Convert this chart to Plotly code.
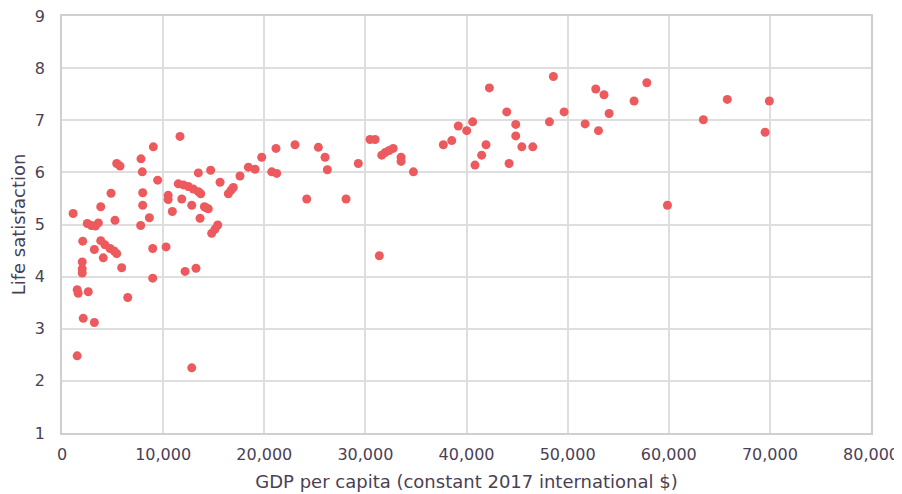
import plotly.graph_objects as go

# GDP per capita (constant 2017 international $)
gdp_per_capita = [
    1100, 1500, 1600, 2600, 1500, 2050, 2000, 2000, 2000, 2100, 3200,
    3200, 3830, 4250, 4750, 5170, 5410, 4080, 5900, 6500, 8970, 10290,
    8970, 2500, 2900, 3300, 3600, 3830, 4850, 5240, 5410, 5740, 7810,
    7940, 9030, 7980, 7980, 8640, 7780, 9460, 10500, 10500, 10910, 11670,
    11500, 12000, 12490, 12990, 13480, 13720, 11840, 12830, 13480, 14700,
    14080, 14470, 14250, 13650, 15630, 14800, 15130, 15400, 16450, 16720,
    16940, 17600, 18430, 19090, 19750, 20740, 21230, 21160, 23040, 24200,
    12170, 13250, 12830, 25350, 26010, 26240, 29300, 28090, 30460, 30960,
    31620, 31950, 32350, 32750, 33530, 33530, 34750, 31380, 37710, 38540,
    39190, 40020, 40610, 40840, 41500, 41930, 42260, 43980, 44210, 44870,
    44870, 45470, 46550, 48200, 48590, 49650, 51730, 52780, 53600, 53050,
    54100, 56570, 57830, 59870, 63420, 65790, 69530, 69950,
]

life_satisfaction = [
    5.21, 3.75, 3.68, 3.71, 2.48, 4.68, 4.28, 4.15, 4.07, 3.20, 3.12,
    4.52, 4.69, 4.61, 4.54, 4.49, 4.44, 4.36, 4.17, 3.60, 4.54, 4.57,
    3.97, 5.02, 4.98, 4.97, 5.03, 5.34, 5.60, 5.08, 6.17, 6.12, 6.26,
    6.01, 6.49, 5.61, 5.37, 5.13, 4.98, 5.85, 5.56, 5.48, 5.25, 6.69,
    5.78, 5.76, 5.73, 5.68, 5.63, 5.59, 5.49, 5.37, 5.99, 6.04,
    5.34, 5.30, 5.32, 5.12, 5.81, 4.83, 4.91, 4.99, 5.59, 5.66,
    5.71, 5.93, 6.10, 6.06, 6.29, 6.01, 5.98, 6.46, 6.53, 5.49,
    4.10, 4.16, 2.25, 6.48, 6.29, 6.05, 6.17, 5.49, 6.63, 6.63,
    6.33, 6.38, 6.42, 6.46, 6.29, 6.21, 6.01, 4.40, 6.53, 6.61,
    6.89, 6.80, 6.97, 6.14, 6.33, 6.53, 7.62, 7.16, 6.17, 6.92,
    6.70, 6.49, 6.49, 6.97, 7.84, 7.16, 6.93, 7.60, 7.49, 6.80,
    7.13, 7.37, 7.72, 5.37, 7.01, 7.40, 6.77, 7.37,
]

x_ticks = [0, 10000, 20000, 30000, 40000, 50000, 60000, 70000, 80000]
y_ticks = [1, 2, 3, 4, 5, 6, 7, 8, 9]

text_color = "#4a3f55"
grid_color = "#dedede"

fig = go.Figure(
    data=[
        go.Scatter(
            x=gdp_per_capita,
            y=life_satisfaction,
            mode="markers",
            marker=dict(color="#ec5a5e", size=9, line=dict(width=0)),
            hoverinfo="x+y",
        )
    ]
)

# the page puts the figure 8px in from the top-left corner,
# so a few px of top margin keep the "9" label visible
fig.update_layout(
    width=894,
    height=486,
    plot_bgcolor="white",
    paper_bgcolor="white",
    showlegend=False,
    margin=dict(l=54, r=31, t=8, b=61),
    font=dict(family="DejaVu Sans", size=16, color=text_color),
)

fig.update_xaxes(
    range=[0, 80000],
    tickvals=x_ticks,
    tickformat=",d",
    showgrid=True,
    gridcolor=grid_color,
    gridwidth=1.5,
    showline=True,
    linecolor="#cfcfcf",
    linewidth=1.5,
    mirror=True,
    zeroline=False,
    ticks="",
    automargin=False,
    ticklabeloverflow="allow",
    ticklabelstandoff=6,
    title=dict(text="GDP per capita (constant 2017 international $)", standoff=12,
               font=dict(size=18)),
)

fig.update_yaxes(
    range=[1, 9],
    tickvals=y_ticks,
    showgrid=True,
    gridcolor=grid_color,
    gridwidth=1.5,
    showline=True,
    linecolor="#cfcfcf",
    linewidth=1.5,
    mirror=True,
    zeroline=False,
    ticks="",
    automargin=False,
    ticklabeloverflow="allow",
    ticklabelstandoff=12,
    title=dict(text="Life satisfaction", standoff=10, font=dict(size=18)),
)

fig.write_html("out.html")
